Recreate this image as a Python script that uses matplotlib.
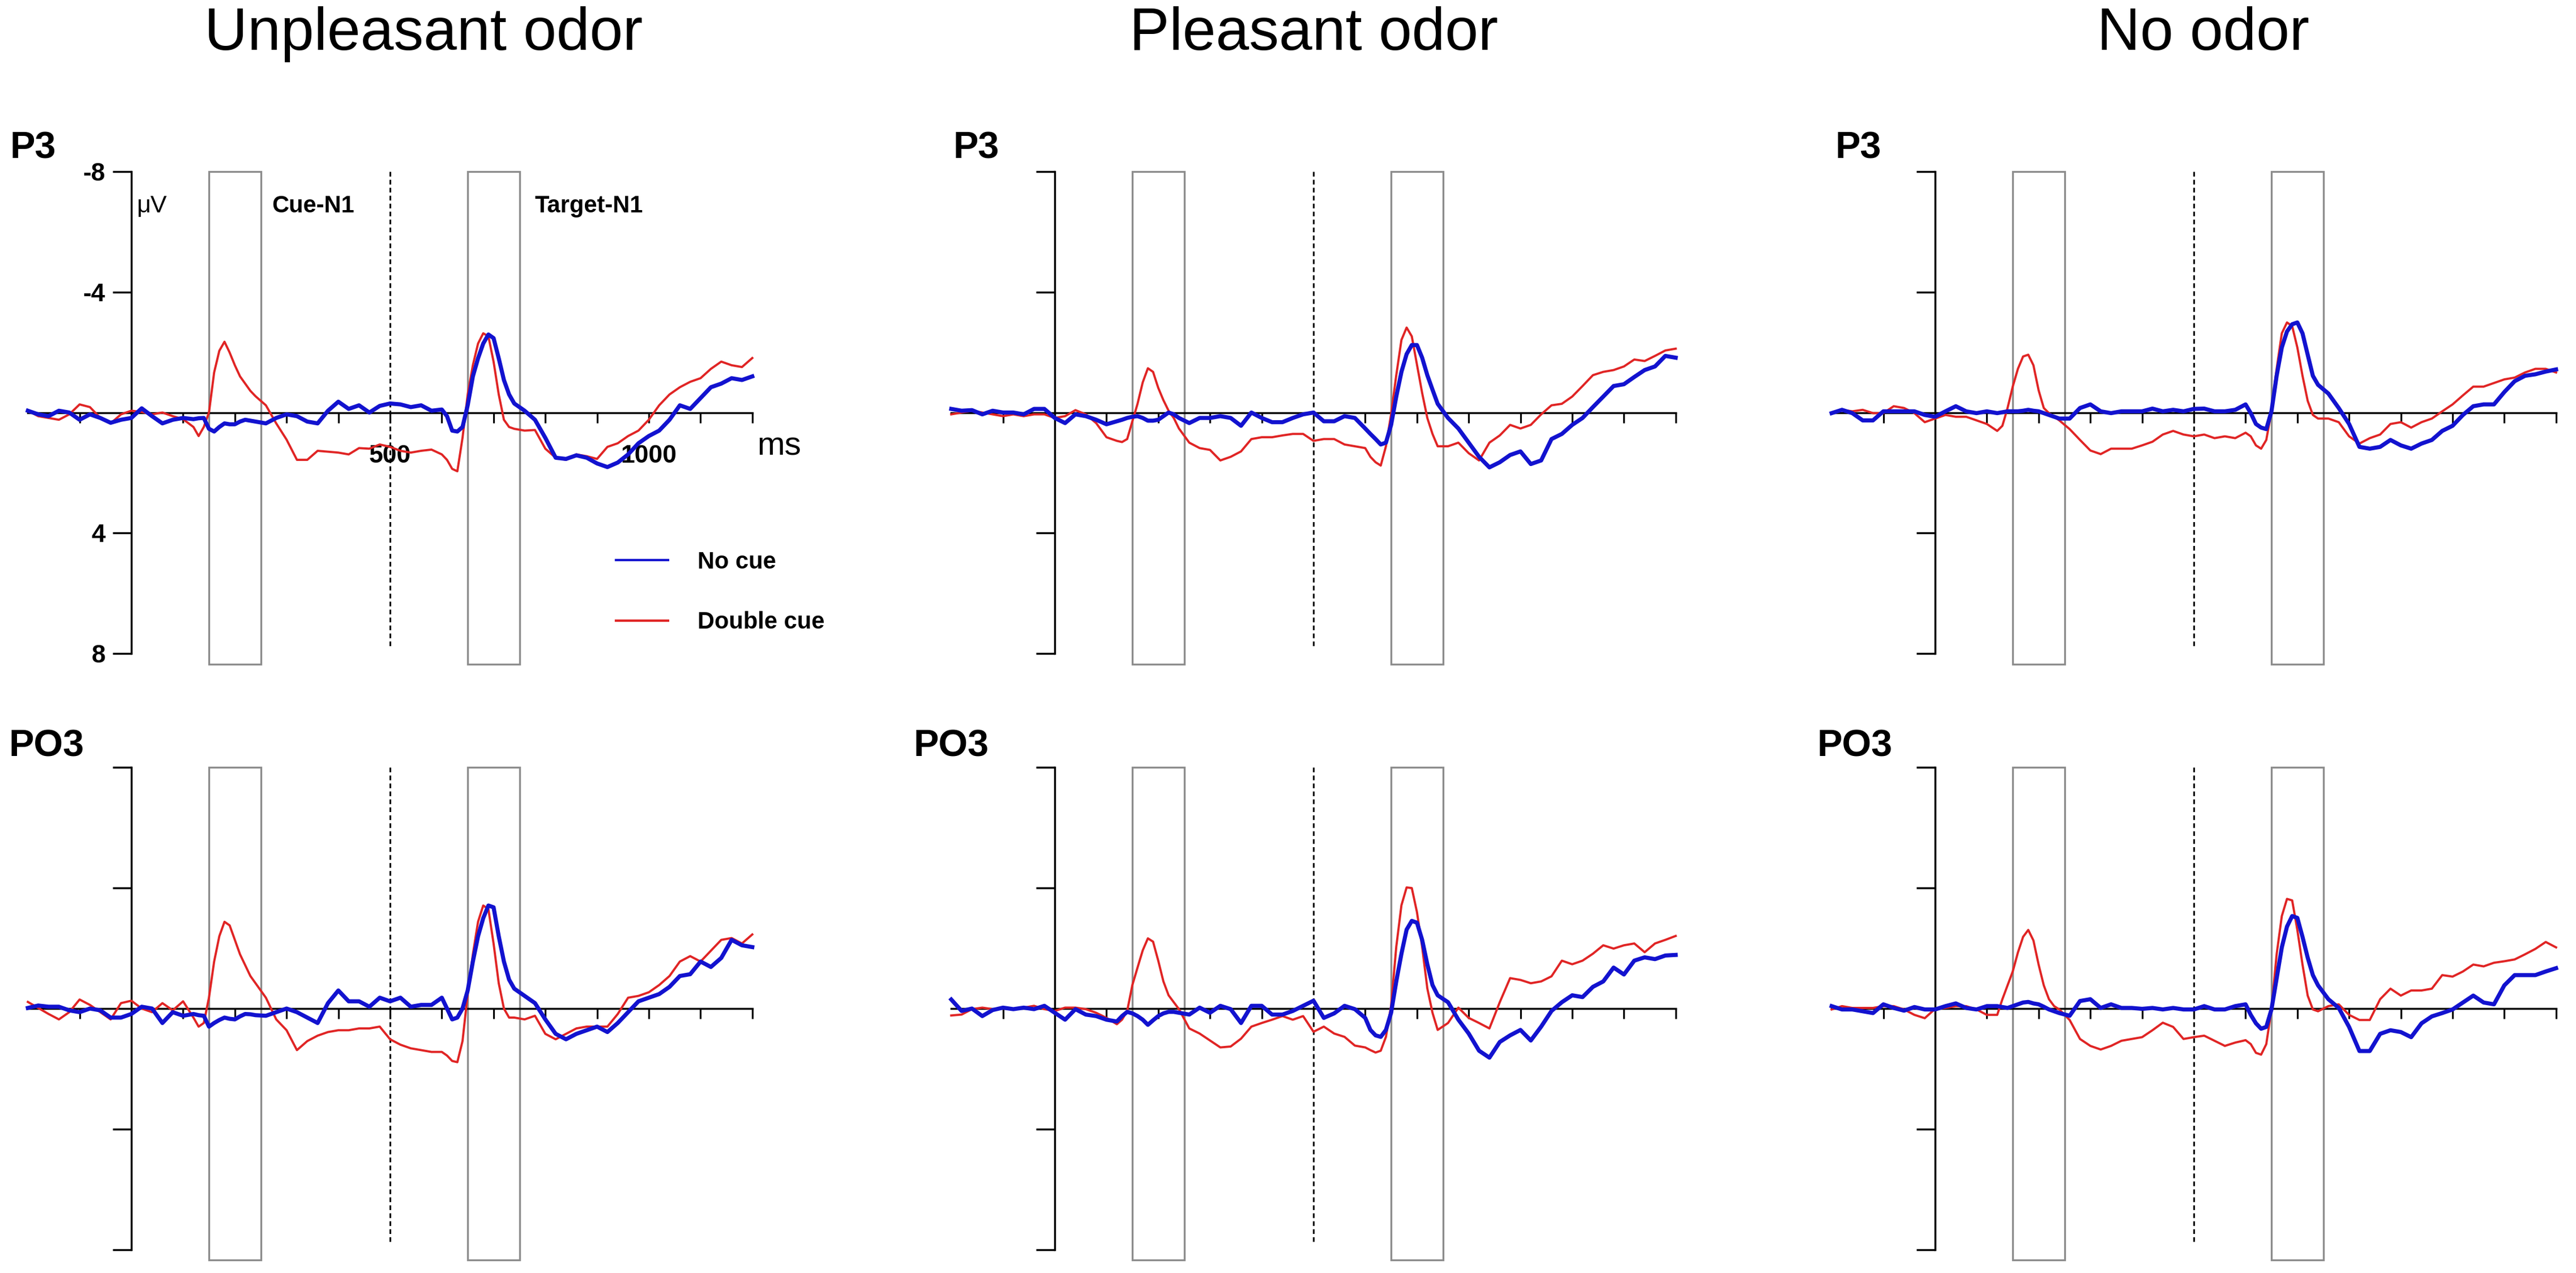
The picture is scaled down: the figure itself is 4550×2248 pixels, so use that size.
import matplotlib
matplotlib.use("Agg")
import matplotlib.pyplot as plt
from matplotlib.patches import Rectangle

# ---------------- data (µV, negative plotted upward) ----------------
times = [-200, -180, -160, -140, -120, -100, -80, -60, -40, -20, 0, 20, 40, 60, 80, 100,
         120, 130, 140, 150, 160, 170, 180, 190, 200, 210, 220, 230, 240,
         260, 280, 300, 320, 340, 360, 380, 400, 420, 440, 460, 480, 500, 520, 540, 560, 580, 600,
         610, 620, 630, 640, 650, 660, 670, 680, 690, 700, 710, 720, 730, 740,
         760, 780, 800, 820, 840, 860, 880, 900, 920, 940, 960, 980, 1000, 1020, 1040, 1060,
         1080, 1100, 1120, 1140, 1160, 1180, 1200]

conditions = ["Unpleasant odor", "Pleasant odor", "No odor"]
electrodes = ["P3", "PO3"]
series_labels = ["No cue", "Double cue"]

unpleasant_p3_double = [
    -0.06, 0.12, 0.18, 0.24, 0.06, -0.27, -0.18, 0.18, 0.36, 0.06, -0.06, -0.02, 0.06, 0.00, 0.12, 0.22,
    0.48, 0.78, 0.48, 0.00, -1.33, -2.05, -2.35, -1.99, -1.57, -1.20, -0.96, -0.72, -0.54,
    -0.24, 0.36, 0.90, 1.57, 1.57, 1.27, 1.30, 1.33, 1.39, 1.18, 1.20, 1.06, 1.14, 1.27, 1.33, 1.27, 1.23, 1.39,
    1.57, 1.87, 1.95, 0.84, -0.60, -1.57, -2.29, -2.63, -2.53, -1.69, -0.60, 0.24, 0.48, 0.54,
    0.60, 0.58, 1.20, 1.50, 1.57, 1.39, 1.45, 1.54, 1.14, 1.02, 0.78, 0.60, 0.24, -0.24, -0.60, -0.84,
    -1.02, -1.14, -1.45, -1.69, -1.57, -1.51, -1.81]
unpleasant_p3_nocue = [
    -0.06, 0.06, 0.12, -0.06, 0.00, 0.24, 0.06, 0.18, 0.34, 0.24, 0.18, -0.14, 0.12, 0.36, 0.24, 0.18,
    0.22, 0.19, 0.18, 0.54, 0.63, 0.48, 0.36, 0.39, 0.39, 0.30, 0.24, 0.27, 0.30,
    0.36, 0.18, 0.06, 0.12, 0.30, 0.36, -0.06, -0.36, -0.12, -0.24, 0.00, -0.22, -0.30, -0.27, -0.18, -0.24, -0.06, -0.10,
    0.12, 0.60, 0.63, 0.48, -0.24, -1.20, -1.80, -2.29, -2.59, -2.47, -1.80, -1.08, -0.60, -0.30,
    -0.06, 0.24, 0.84, 1.50, 1.54, 1.42, 1.50, 1.69, 1.81, 1.66, 1.39, 1.02, 0.78, 0.60, 0.24, -0.24,
    -0.12, -0.48, -0.84, -0.96, -1.14, -1.08, -1.20]

pleasant_p3_double = [
    0.06, 0.00, -0.06, 0.00, 0.06, 0.12, 0.06, 0.12, 0.06, 0.06, 0.18, 0.12, -0.08, 0.06, 0.35, 0.82,
    0.94, 0.98, 0.88, 0.29, -0.29, -1.00, -1.47, -1.35, -0.82, -0.41, -0.06, 0.18, 0.53,
    1.00, 1.18, 1.24, 1.59, 1.47, 1.29, 0.88, 0.82, 0.82, 0.76, 0.71, 0.71, 0.94, 0.88, 0.88, 1.06, 1.12, 1.18,
    1.47, 1.65, 1.76, 1.12, 0.06, -1.24, -2.41, -2.82, -2.53, -1.59, -0.65, 0.18, 0.71, 1.12,
    1.12, 1.00, 1.35, 1.59, 1.00, 0.76, 0.41, 0.53, 0.41, 0.06, -0.24, -0.29, -0.53, -0.88, -1.24, -1.35,
    -1.41, -1.53, -1.76, -1.71, -1.88, -2.06, -2.12]
pleasant_p3_nocue = [
    -0.12, -0.06, -0.08, 0.06, -0.06, 0.00, 0.00, 0.06, -0.12, -0.12, 0.18, 0.35, 0.06, 0.12, 0.24, 0.39,
    0.29, 0.24, 0.18, 0.14, 0.12, 0.18, 0.27, 0.27, 0.24, 0.12, 0.00, 0.06, 0.18,
    0.35, 0.18, 0.18, 0.12, 0.18, 0.44, 0.00, 0.18, 0.32, 0.32, 0.18, 0.06, 0.00, 0.29, 0.29, 0.12, 0.18, 0.53,
    0.71, 0.88, 1.06, 1.00, 0.41, -0.53, -1.35, -1.94, -2.24, -2.24, -1.82, -1.24, -0.76, -0.29,
    0.18, 0.53, 1.00, 1.47, 1.82, 1.65, 1.41, 1.29, 1.71, 1.59, 0.88, 0.71, 0.41, 0.18, -0.18, -0.53,
    -0.88, -0.94, -1.18, -1.41, -1.53, -1.88, -1.82]

noodor_p3_double = [
    0.02, -0.09, -0.04, -0.09, 0.02, 0.02, -0.21, -0.15, 0.02, 0.32, 0.20, 0.08, 0.14, 0.14, 0.26, 0.38,
    0.61, 0.44, -0.15, -0.86, -1.45, -1.86, -1.92, -1.57, -0.74, -0.15, 0.02, 0.14, 0.26,
    0.55, 0.91, 1.26, 1.38, 1.20, 1.20, 1.20, 1.09, 0.97, 0.73, 0.61, 0.73, 0.79, 0.73, 0.85, 0.79, 0.85, 0.67,
    0.79, 1.09, 1.20, 0.91, -0.04, -1.45, -2.63, -2.99, -2.87, -2.16, -1.22, -0.39, 0.08, 0.20,
    0.20, 0.32, 0.79, 1.03, 0.85, 0.73, 0.38, 0.32, 0.50, 0.32, 0.20, -0.04, -0.27, -0.57, -0.86, -0.86,
    -0.98, -1.10, -1.16, -1.33, -1.45, -1.45, -1.33]
noodor_p3_nocue = [
    0.02, -0.09, 0.02, 0.26, 0.26, -0.04, -0.04, -0.04, -0.04, 0.08, 0.14, -0.04, -0.21, -0.04, 0.02, -0.04,
    0.02, -0.01, -0.04, -0.04, -0.04, -0.06, -0.09, -0.06, -0.04, 0.02, 0.08, 0.14, 0.20,
    0.20, -0.15, -0.27, -0.04, 0.02, -0.04, -0.04, -0.04, -0.13, -0.04, -0.09, -0.04, -0.12, -0.13, -0.04, -0.04, -0.09, -0.27,
    0.02, 0.38, 0.50, 0.55, -0.04, -1.22, -2.16, -2.69, -2.93, -2.99, -2.63, -1.92, -1.22, -0.92,
    -0.63, -0.15, 0.38, 1.14, 1.20, 1.14, 0.91, 1.09, 1.20, 1.03, 0.91, 0.61, 0.44, 0.08, -0.21, -0.27,
    -0.27, -0.68, -1.04, -1.22, -1.27, -1.36, -1.43]

unpleasant_po3_double = [
    -0.22, -0.02, 0.18, 0.36, 0.12, -0.30, -0.12, 0.12, 0.36, -0.18, -0.26, 0.00, 0.12, -0.18, 0.06, -0.24,
    0.30, 0.60, 0.48, -0.36, -1.56, -2.40, -2.88, -2.76, -2.28, -1.80, -1.44, -1.08, -0.84,
    -0.36, 0.36, 0.72, 1.38, 1.08, 0.90, 0.78, 0.72, 0.72, 0.66, 0.66, 0.60, 1.02, 1.20, 1.32, 1.38, 1.44, 1.44,
    1.56, 1.74, 1.78, 1.08, -0.48, -1.80, -2.88, -3.42, -3.30, -2.16, -0.84, 0.00, 0.30, 0.30,
    0.36, 0.24, 0.84, 1.02, 0.84, 0.66, 0.60, 0.60, 0.60, 0.18, -0.36, -0.42, -0.54, -0.78, -1.08, -1.56,
    -1.74, -1.56, -1.92, -2.28, -2.34, -2.16, -2.46]
unpleasant_po3_nocue = [
    -0.02, -0.10, -0.06, -0.06, 0.06, 0.12, 0.00, 0.06, 0.30, 0.30, 0.18, -0.06, 0.00, 0.48, 0.12, 0.24,
    0.18, 0.22, 0.24, 0.60, 0.48, 0.38, 0.30, 0.34, 0.36, 0.26, 0.18, 0.19, 0.22,
    0.24, 0.12, 0.00, 0.12, 0.30, 0.48, -0.18, -0.60, -0.24, -0.24, -0.06, -0.36, -0.24, -0.36, -0.06, -0.12, -0.12, -0.36,
    0.00, 0.36, 0.30, 0.00, -0.60, -1.56, -2.40, -3.00, -3.42, -3.36, -2.40, -1.56, -0.96, -0.66,
    -0.42, -0.18, 0.36, 0.84, 1.02, 0.84, 0.72, 0.60, 0.78, 0.48, 0.12, -0.24, -0.36, -0.48, -0.72, -1.08,
    -1.14, -1.56, -1.38, -1.68, -2.28, -2.10, -2.04]

pleasant_po3_double = [
    0.23, 0.20, 0.02, -0.03, 0.02, 0.00, 0.02, -0.03, -0.09, 0.02, 0.08, -0.03, -0.03, 0.02, 0.14, 0.31,
    0.52, 0.37, 0.08, -0.78, -1.36, -1.93, -2.33, -2.22, -1.59, -0.90, -0.44, -0.21, 0.02,
    0.66, 0.83, 1.06, 1.29, 1.26, 1.00, 0.60, 0.48, 0.37, 0.25, 0.37, 0.25, 0.77, 0.60, 0.83, 0.94, 1.23, 1.29,
    1.38, 1.46, 1.40, 0.94, -0.09, -2.05, -3.43, -4.02, -4.00, -3.20, -2.05, -0.67, 0.14, 0.71,
    0.48, -0.03, 0.31, 0.48, 0.66, -0.21, -1.01, -0.95, -0.84, -0.90, -1.07, -1.59, -1.47, -1.59, -1.82, -2.10,
    -1.99, -2.10, -2.16, -1.87, -2.16, -2.28, -2.41]
pleasant_po3_nocue = [
    -0.30, 0.08, 0.00, 0.25, 0.05, -0.03, 0.02, -0.03, 0.02, -0.09, 0.14, 0.37, 0.02, 0.20, 0.25, 0.37,
    0.43, 0.25, 0.11, 0.16, 0.25, 0.37, 0.54, 0.39, 0.25, 0.16, 0.11, 0.11, 0.14,
    0.20, -0.03, 0.14, -0.09, 0.02, 0.48, -0.09, -0.09, 0.20, 0.20, 0.08, -0.09, -0.26, 0.31, 0.16, -0.09, 0.02, 0.31,
    0.71, 0.89, 0.94, 0.71, 0.14, -0.90, -1.82, -2.62, -2.91, -2.85, -2.28, -1.47, -0.78, -0.44,
    -0.21, 0.37, 0.83, 1.40, 1.63, 1.11, 0.89, 0.71, 1.06, 0.60, 0.08, -0.21, -0.44, -0.38, -0.72, -0.90,
    -1.36, -1.13, -1.59, -1.70, -1.64, -1.76, -1.78]

noodor_po3_double = [
    0.03, -0.08, -0.02, -0.02, -0.02, -0.08, -0.08, 0.03, 0.21, 0.32, 0.01, -0.02, -0.08, -0.08, 0.03, 0.21,
    0.21, -0.31, -0.77, -1.23, -1.86, -2.38, -2.61, -2.26, -1.46, -0.77, -0.31, -0.08, 0.03,
    0.38, 1.01, 1.24, 1.36, 1.24, 1.07, 1.01, 0.95, 0.72, 0.47, 0.61, 1.01, 0.95, 0.90, 1.07, 1.24, 1.13, 1.05,
    1.18, 1.47, 1.53, 1.18, 0.03, -1.80, -3.07, -3.64, -3.59, -2.61, -1.46, -0.43, 0.03, 0.09,
    -0.08, -0.14, 0.21, 0.38, 0.38, -0.31, -0.66, -0.43, -0.60, -0.60, -0.66, -1.11, -1.06, -1.23, -1.46, -1.40,
    -1.52, -1.57, -1.63, -1.80, -1.98, -2.21, -2.03]
noodor_po3_nocue = [
    -0.08, 0.03, 0.03, 0.09, 0.15, -0.14, -0.02, 0.07, -0.05, 0.03, 0.03, -0.08, -0.17, -0.02, 0.03, -0.08,
    -0.08, -0.05, -0.02, -0.08, -0.14, -0.20, -0.22, -0.17, -0.14, -0.06, 0.03, 0.09, 0.15,
    0.24, -0.25, -0.31, -0.02, -0.14, -0.02, -0.02, 0.01, -0.02, 0.03, -0.02, 0.03, 0.03, -0.08, 0.03, 0.03, -0.08, -0.14,
    0.21, 0.49, 0.67, 0.61, 0.03, -1.00, -2.03, -2.72, -3.07, -3.01, -2.38, -1.69, -1.11, -0.77,
    -0.31, -0.02, 0.61, 1.41, 1.41, 0.84, 0.72, 0.78, 0.95, 0.49, 0.26, 0.15, 0.03, -0.20, -0.43, -0.20,
    -0.14, -0.77, -1.11, -1.11, -1.11, -1.23, -1.34]

y_ticks = [-8, -4, 4, 8]
y_tick_labels = ["-8", "-4", "4", "8"]
x_ticks = [-100, 100, 200, 300, 400, 500, 600, 700, 800, 900, 1000, 1100, 1200]
x_labelled = {500: "500", 1000: "1000"}
cue_window = (150, 250)
target_window = (650, 750)
target_onset = 500

panel_data = {
    (0, 0): (unpleasant_p3_nocue, unpleasant_p3_double),
    (0, 1): (pleasant_p3_nocue, pleasant_p3_double),
    (0, 2): (noodor_p3_nocue, noodor_p3_double),
    (1, 0): (unpleasant_po3_nocue, unpleasant_po3_double),
    (1, 1): (pleasant_po3_nocue, pleasant_po3_double),
    (1, 2): (noodor_po3_nocue, noodor_po3_double),
}

# ---------------- styling / layout ----------------
plt.rcParams["font.family"] = ["Liberation Sans", "DejaVu Sans"]
W, H = 4550, 2248
BLUE = "#1212CF"
RED = "#E02424"
GREY = "#8C8C8C"

col_zero_px = [232, 1863, 3418]
row_zero_px = [728.5, 1781]
px_per_ms = 0.914
px_per_uv = 53.2
XLIM = (-220, 1220)
YHALF = 8.6

fig = plt.figure(figsize=(W / 100, H / 100), dpi=100)

title_x_px = [748, 2321, 3891]
for name, xp in zip(conditions, title_x_px):
    fig.text(xp / W, 1 - 88 / H, name, ha="center", va="baseline", fontsize=76)

label_pos = {(0, 0): (17, 280), (0, 1): (1683, 280), (0, 2): (3241, 280),
             (1, 0): (15, 1336), (1, 1): (1613, 1336), (1, 2): (3209, 1336)}

for (r, c), (nocue, double) in panel_data.items():
    left_px = col_zero_px[c] + XLIM[0] * px_per_ms
    width_px = (XLIM[1] - XLIM[0]) * px_per_ms
    top_px = row_zero_px[r] - YHALF * px_per_uv
    height_px = 2 * YHALF * px_per_uv
    ax = fig.add_axes([left_px / W, 1 - (top_px + height_px) / H, width_px / W, height_px / H])
    ax.set_xlim(*XLIM)
    ax.set_ylim(YHALF, -YHALF)
    ax.patch.set_alpha(0)

    for s in ("top", "right"):
        ax.spines[s].set_visible(False)
    ax.spines["left"].set_position(("data", 0))
    ax.spines["left"].set_bounds(-8, 8)
    ax.spines["bottom"].set_position(("data", 0))
    ax.spines["bottom"].set_bounds(-200, 1200)
    for s in ("left", "bottom"):
        ax.spines[s].set_linewidth(2.5)
        ax.spines[s].set_zorder(3)

    ax.set_yticks(y_ticks)
    ax.set_xticks(x_ticks)
    ax.tick_params(axis="y", direction="out", length=24, width=2.5, pad=9)
    ax.tick_params(axis="x", direction="out", length=13, width=2.3, pad=28)
    if (r, c) == (0, 0):
        ax.set_yticklabels(y_tick_labels, fontsize=32, fontweight="bold")
        ax.set_xticklabels([x_labelled.get(t, "") for t in x_ticks], fontsize=32, fontweight="bold")
    else:
        ax.set_yticklabels([])
        ax.set_xticklabels([])

    # analysis windows and target onset
    for (t0, t1) in (cue_window, target_window):
        ax.add_patch(Rectangle((t0, -8.0), t1 - t0, 16.35, fill=False, ec=GREY, lw=2.4,
                               clip_on=False, zorder=2))
    ax.vlines(target_onset, -8, 7.8, colors="black", linestyles=(0, (2.7, 1.9)), lw=2.2, zorder=2)

    l_red, = ax.plot(times, double, color=RED, lw=2.8, zorder=4, clip_on=False,
                     solid_joinstyle="round", label=series_labels[1])
    l_blue, = ax.plot(times, nocue, color=BLUE, lw=5.2, zorder=5, clip_on=False,
                      solid_joinstyle="round", label=series_labels[0])

    if (r, c) == (0, 0):
        ax.text(10, -6.85, "μV", fontsize=31, ha="left", va="center")
        ax.text(272, -6.85, "Cue-N1", fontsize=30, fontweight="bold", ha="left", va="center")
        ax.text(779, -6.85, "Target-N1", fontsize=30, fontweight="bold", ha="left", va="center")
        ax.text(1209, 1.12, "ms", fontsize=42, ha="left", va="center")
        leg = ax.legend(handles=[l_blue, l_red], loc="center left",
                        bbox_to_anchor=(1088 / W, 1 - 1046 / H), bbox_transform=fig.transFigure,
                        frameon=False, prop={"weight": "bold", "size": 30},
                        handlelength=2.2, handletextpad=1.25, labelspacing=1.6,
                        borderpad=0, borderaxespad=0)
        for hl in leg.get_lines():
            hl.set_linewidth(3.0)

    lx, ly = label_pos[(r, c)]
    fig.text(lx / W, 1 - ly / H, electrodes[r], fontsize=48, fontweight="bold",
             ha="left", va="baseline")

fig.savefig("out.png", dpi=100)
